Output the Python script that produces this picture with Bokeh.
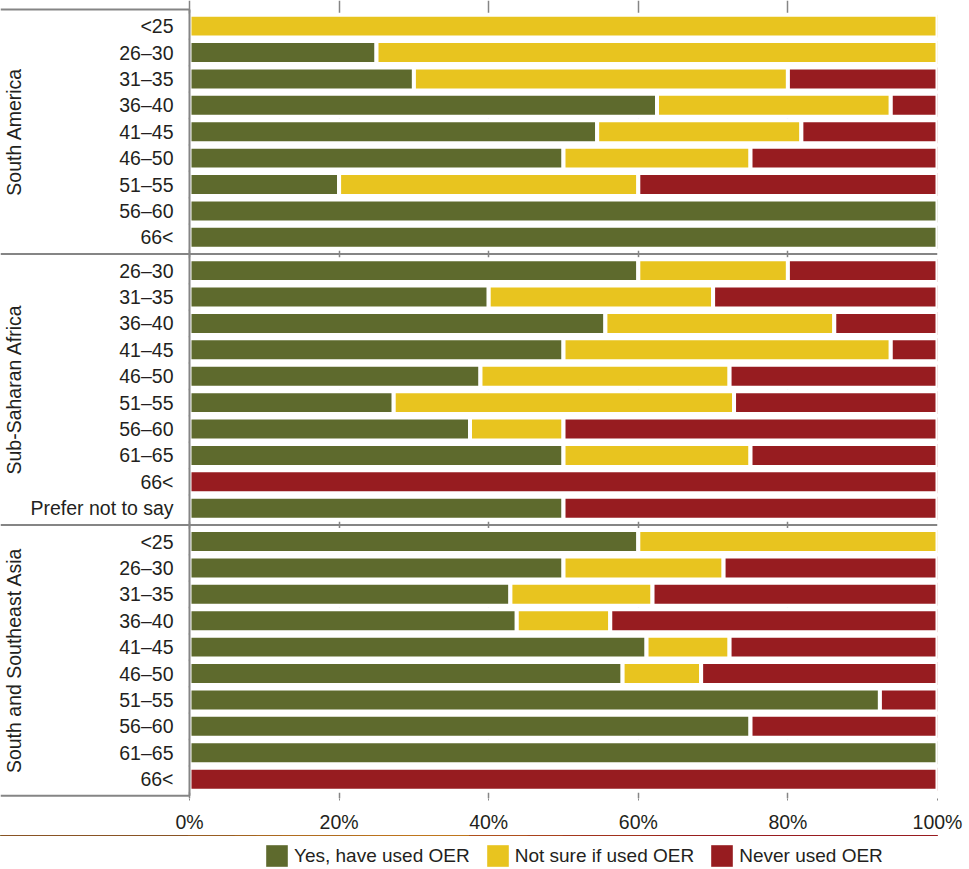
import math
from bokeh.plotting import figure
from bokeh.layouts import column
from bokeh.models import (ColumnDataSource, Range1d, FixedTicker, PrintfTickFormatter,
                          Legend, LegendItem)
from bokeh.core.properties import value
from bokeh.embed import file_html
from bokeh.resources import INLINE

# ---------------- data ----------------
groups = ["South America", "Sub-Saharan Africa", "South and Southeast Asia"]

sa_ages = ["<25", "26–30", "31–35", "36–40", "41–45", "46–50", "51–55", "56–60", "66<"]
sa_yes = [0, 25, 30, 62.5, 54.5, 50, 20, 100, 100]
sa_unsure = [100, 75, 50, 31.25, 27.3, 25, 40, 0, 0]
sa_never = [0, 0, 20, 6.25, 18.2, 25, 40, 0, 0]

ssa_ages = ["26–30", "31–35", "36–40", "41–45", "46–50", "51–55", "56–60", "61–65", "66<",
            "Prefer not to say"]
ssa_yes = [60, 40, 55.6, 50, 38.9, 27.3, 37.5, 50, 0, 50]
ssa_unsure = [20, 30, 30.6, 43.75, 33.3, 45.5, 12.5, 25, 0, 0]
ssa_never = [20, 30, 13.8, 6.25, 27.8, 27.2, 50, 25, 100, 50]

ssea_ages = ["<25", "26–30", "31–35", "36–40", "41–45", "46–50", "51–55", "56–60", "61–65", "66<"]
ssea_yes = [60, 50, 42.9, 43.75, 61.1, 57.9, 92.3, 75, 100, 0]
ssea_unsure = [40, 21.4, 19.0, 12.5, 11.1, 10.5, 0, 0, 0, 0]
ssea_never = [0, 28.6, 38.1, 43.75, 27.8, 31.6, 7.7, 25, 0, 100]

series_names = ["Yes, have used OER", "Not sure if used OER", "Never used OER"]
series_colors = ["#5E6A2D", "#E8C41F", "#971C20"]
x_ticks = [0, 20, 40, 60, 80, 100]

# ---------------- layout helpers ----------------
group_ages = [sa_ages, ssa_ages, ssea_ages]
group_series = [
    [sa_yes, sa_unsure, sa_never],
    [ssa_yes, ssa_unsure, ssa_never],
    [ssea_yes, ssea_unsure, ssea_never],
]

GAP = 0.26          # padding between groups, in rows
LABEL_PX = 189      # width of the label panel in pixels
PLOT_PX = 748       # width of the 0-100% area in pixels
ROW_PX = 26.47
TOP_PX = 9
FRAME_H = 800
W = 969
MAIN_H = 835
LEG_H = 34
FONT_NAME = "Liberation Sans"
FONT = value(FONT_NAME)
FONT_SIZE = "19.5px"
LEG_FONT_SIZE = "19px"
TEXT_COLOR = "#231f20"
LINE_COLOR = "#858585"
BAR_H = 0.87
STROKE = 4

row_y, row_label = [], []
seg = [dict(y=[], left=[], right=[]) for _ in range(3)]
bounds = [0.0]
group_centers = []
cur = 0.0
for ages, ser in zip(group_ages, group_series):
    start = cur
    cur += GAP / 2
    for j, age in enumerate(ages):
        y = cur + 0.5
        row_y.append(y)
        row_label.append(age)
        left = 0.0
        for k in range(3):
            v = ser[k][j]
            if v > 0:
                seg[k]["y"].append(y)
                seg[k]["left"].append(left)
                seg[k]["right"].append(left + v)
            left += v
        cur += 1
    cur += GAP / 2
    bounds.append(cur)
    group_centers.append((start + cur) / 2)

x_start = -LABEL_PX / PLOT_PX * 100
y_top = -TOP_PX / ROW_PX
y_bottom = y_top + FRAME_H / ROW_PX

p = figure(
    width=W, height=MAIN_H,
    x_range=Range1d(x_start, 100), y_range=Range1d(y_bottom, y_top),
    min_border_left=0, min_border_top=0,
    min_border_right=W - LABEL_PX - PLOT_PX, min_border_bottom=MAIN_H - FRAME_H,
    output_backend="svg", toolbar_location=None, y_axis_location=None,
)
p.outline_line_color = None
p.background_fill_color = None
p.border_fill_color = None
p.ygrid.visible = False
p.xgrid.ticker = FixedTicker(ticks=x_ticks)
p.xgrid.grid_line_color = LINE_COLOR
p.xgrid.grid_line_width = 1.5

ax = p.xaxis[0]
ax.ticker = FixedTicker(ticks=x_ticks)
ax.formatter = PrintfTickFormatter(format="%d%%")
ax.axis_line_color = None
ax.major_tick_line_color = LINE_COLOR
ax.major_tick_out = 2
ax.major_tick_in = 0
ax.minor_tick_line_color = None
ax.major_label_standoff = 10
ax.major_label_text_font = FONT_NAME
ax.major_label_text_font_size = FONT_SIZE
ax.major_label_text_color = TEXT_COLOR

sources = []
for k in range(3):
    src = ColumnDataSource(seg[k])
    sources.append(src)
    p.hbar(y="y", left="left", right="right", height=BAR_H, source=src,
           fill_color=series_colors[k], line_color="white", line_width=STROKE)

# frame / separator lines
sx0 = [x_start] * len(bounds) + [0]
sx1 = [0] + [100] * (len(bounds) - 2) + [0] + [0]
sy0 = bounds + [bounds[0]]
sy1 = bounds + [bounds[-1]]
p.segment(x0=sx0, x1=sx1, y0=sy0, y1=sy1, line_color=LINE_COLOR, line_width=2)

# category labels
p.text(x=[0] * len(row_y), y=row_y, text=row_label, x_offset=-16,
       text_align="right", text_baseline="middle", text_font=FONT,
       text_font_size=FONT_SIZE, text_color=TEXT_COLOR)

# group labels (rotated)
p.text(x=[0] * len(groups), y=group_centers, text=groups, x_offset=-176,
       angle=math.pi / 2, text_align="center", text_baseline="alphabetic",
       text_font=FONT, text_font_size=FONT_SIZE, text_color=TEXT_COLOR)

# ---------------- legend strip ----------------
# same sources as the chart; the strip's ranges keep the bars themselves out of view
lg = figure(width=W, height=LEG_H, x_range=Range1d(0, 100), y_range=Range1d(-2, -1),
            min_border=0, output_backend="svg", toolbar_location=None,
            x_axis_location=None, y_axis_location=None)
lg.outline_line_color = None
lg.background_fill_color = None
lg.border_fill_color = None
lg.xgrid.visible = False
lg.ygrid.visible = False
leg_renderers = []
for k in range(3):
    r = lg.hbar(y="y", left="left", right="right", height=BAR_H, source=sources[k],
                fill_color=series_colors[k], line_color=None)
    leg_renderers.append(r)

legend = Legend(
    items=[LegendItem(label=series_names[k], renderers=[leg_renderers[k]]) for k in range(3)],
    orientation="horizontal", location=(263, 0),
    border_line_color=None, background_fill_alpha=0,
    padding=0, margin=0, spacing=14, label_standoff=4,
    glyph_width=27, glyph_height=27,
    label_text_font=FONT_NAME, label_text_font_size=LEG_FONT_SIZE,
    label_text_color=TEXT_COLOR,
)
lg.add_layout(legend, "center")

layout = column(p, lg, spacing=0)
open("out.html", "w").write(file_html(layout, INLINE))
